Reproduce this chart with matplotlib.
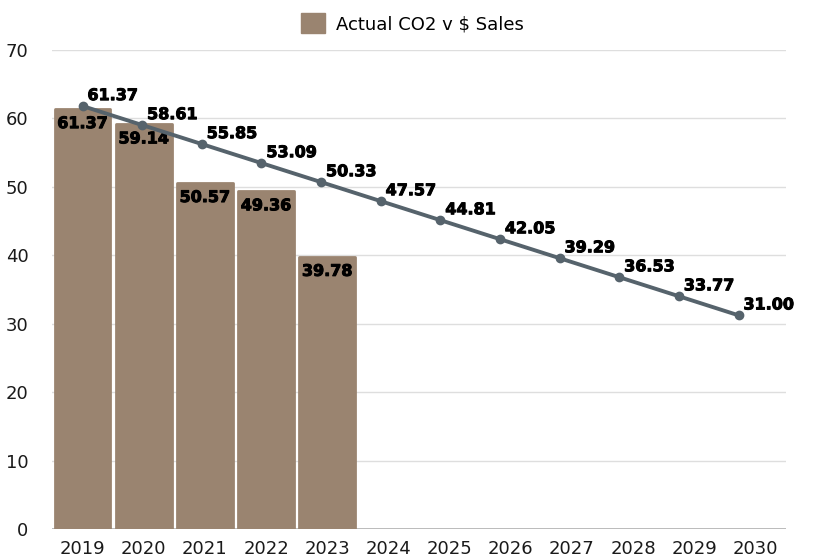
import numpy as np
import matplotlib.pyplot as plt
import matplotlib.patheffects as pe
from matplotlib.patches import Patch

years = ['2019', '2020', '2021', '2022', '2023', '2024',
         '2025', '2026', '2027', '2028', '2029', '2030']
actual = [61.37, 59.14, 50.57, 49.36, 39.78]
target = [61.37, 58.61, 55.85, 53.09, 50.33, 47.57,
          44.81, 42.05, 39.29, 36.53, 33.77, 31.00]

bar_color = '#9a8470'
line_color = '#56636c'


def main():
    plt.rcParams['font.family'] = ['DejaVu Sans']
    fig = plt.figure(figsize=(8.17, 5.57), dpi=100)
    ax = fig.add_axes([52 / 817, 1 - 529 / 557, 734 / 817, 479 / 557])

    # labels in the original are extra bold, thicken them a touch
    heavy = [pe.withStroke(linewidth=0.7, foreground='black')]

    x = np.arange(len(years))
    xa = x[:len(actual)]
    bars = ax.bar(xa, actual, width=0.91, color=bar_color, edgecolor=bar_color,
                  linewidth=2, joinstyle='round', zorder=2)
    for b, v in zip(bars, actual):
        ax.annotate(f'{v:.2f}', (b.get_x() + b.get_width() / 2, v),
                    xytext=(0, -10.5), textcoords='offset points',
                    ha='center', va='center', fontsize=11.5,
                    fontweight='bold', color='black', zorder=5,
                    path_effects=heavy)

    ax.set_xlim(-0.5, len(years) - 0.5)
    ax.set_ylim(0, 70)
    ax.set_yticks(range(0, 80, 10))
    ax.set_xticks(x)
    ax.set_xticklabels(years)
    ax.tick_params(axis='both', length=0, labelsize=13, colors='#1a1a1a')
    ax.tick_params(axis='y', pad=17)
    ax.tick_params(axis='x', pad=8)
    ax.grid(axis='y', color='#dedede', linewidth=1, zorder=0)
    ax.set_axisbelow(True)
    for s in ax.spines.values():
        s.set_visible(False)
    ax.axhline(0, color='#b5b5b5', linewidth=2, zorder=1)

    # line sits on its own hidden scale, slightly tighter than the bars
    ax2 = ax.twinx()
    ax2.set_ylim(0, 69.5)
    ax2.set_xlim(ax.get_xlim())
    ax2.axis('off')
    xl = x * 0.975
    ax2.plot(xl, target, color=line_color, linewidth=2.8, marker='o',
             markersize=6, zorder=3)
    for xi, v in zip(xl, target):
        ax2.annotate(f'{v:.2f}', (xi, v), xytext=(3.5, 7.5),
                     textcoords='offset points', ha='left', va='center',
                     fontsize=11.5, fontweight='bold', color='black',
                     path_effects=heavy)

    fig.legend(handles=[Patch(facecolor=bar_color, edgecolor=bar_color)],
               labels=['Actual CO2 v $ Sales'], loc='upper center',
               bbox_to_anchor=(0.505, 1.005), frameon=False, fontsize=13,
               handlelength=1.3, handleheight=1.3, handletextpad=0.6)

    fig.savefig('out.png', dpi=100)


if __name__ == '__main__':
    main()
